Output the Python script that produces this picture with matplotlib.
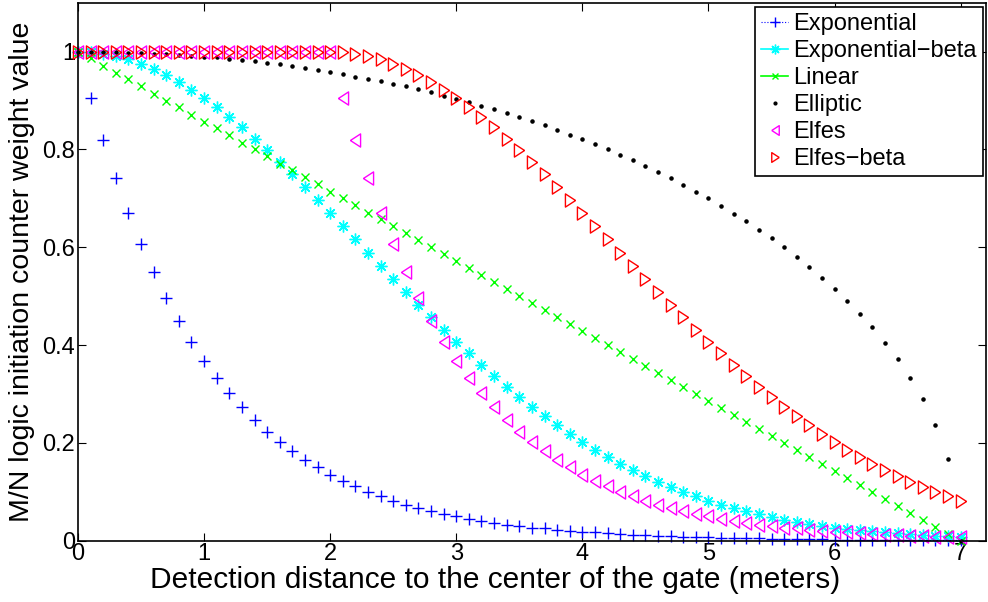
"""
Weight functions for the M/N logic initiation counter vs detection distance.
Writes out.png
"""
import numpy as np
import matplotlib
matplotlib.use("Agg")
import matplotlib.pyplot as plt
from matplotlib.lines import Line2D

plt.rcParams["font.family"] = ["Liberation Sans", "DejaVu Sans"]

# distance grid (meters), 0.1 m step
dist = np.linspace(0, 7, 71)

exponential = [1.000, 0.905, 0.819, 0.741, 0.670, 0.607, 0.549, 0.497, 0.449, 0.407,
               0.368, 0.333, 0.301, 0.273, 0.247, 0.223, 0.202, 0.183, 0.165, 0.150,
               0.135, 0.122, 0.111, 0.100, 0.091, 0.082, 0.074, 0.067, 0.061, 0.055,
               0.050, 0.045, 0.041, 0.037, 0.033, 0.030, 0.027, 0.025, 0.022, 0.020,
               0.018, 0.017, 0.015, 0.014, 0.012, 0.011, 0.010, 0.009, 0.008, 0.007,
               0.007, 0.006, 0.006, 0.005, 0.005, 0.004, 0.004, 0.003, 0.003, 0.003,
               0.002, 0.002, 0.002, 0.002, 0.002, 0.002, 0.001, 0.001, 0.001, 0.001,
               0.001]

exp_beta = [1.000, 0.999, 0.996, 0.991, 0.984, 0.975, 0.965, 0.952, 0.938, 0.922,
            0.905, 0.886, 0.866, 0.845, 0.822, 0.799, 0.774, 0.749, 0.723, 0.697,
            0.670, 0.643, 0.616, 0.589, 0.562, 0.535, 0.509, 0.482, 0.457, 0.431,
            0.407, 0.383, 0.359, 0.337, 0.315, 0.294, 0.274, 0.254, 0.236, 0.219,
            0.202, 0.186, 0.171, 0.157, 0.144, 0.132, 0.121, 0.110, 0.100, 0.091,
            0.082, 0.074, 0.067, 0.060, 0.054, 0.049, 0.043, 0.039, 0.035, 0.031,
            0.027, 0.024, 0.021, 0.019, 0.017, 0.015, 0.013, 0.011, 0.010, 0.009,
            0.007]

linear = [1.000, 0.986, 0.971, 0.957, 0.943, 0.929, 0.914, 0.900, 0.886, 0.871,
          0.857, 0.843, 0.829, 0.814, 0.800, 0.786, 0.771, 0.757, 0.743, 0.729,
          0.714, 0.700, 0.686, 0.671, 0.657, 0.643, 0.629, 0.614, 0.600, 0.586,
          0.571, 0.557, 0.543, 0.529, 0.514, 0.500, 0.486, 0.471, 0.457, 0.443,
          0.429, 0.414, 0.400, 0.386, 0.371, 0.357, 0.343, 0.329, 0.314, 0.300,
          0.286, 0.271, 0.257, 0.243, 0.229, 0.214, 0.200, 0.186, 0.171, 0.157,
          0.143, 0.129, 0.114, 0.100, 0.086, 0.071, 0.057, 0.043, 0.029, 0.014,
          0.000]

elliptic = [1.000, 1.000, 1.000, 0.999, 0.998, 0.997, 0.996, 0.995, 0.993, 0.992,
            0.990, 0.988, 0.985, 0.983, 0.980, 0.977, 0.974, 0.970, 0.966, 0.963,
            0.958, 0.954, 0.949, 0.944, 0.939, 0.934, 0.929, 0.923, 0.917, 0.910,
            0.904, 0.897, 0.889, 0.882, 0.874, 0.866, 0.858, 0.849, 0.840, 0.830,
            0.821, 0.811, 0.800, 0.789, 0.778, 0.766, 0.754, 0.741, 0.728, 0.714,
            0.700, 0.685, 0.669, 0.653, 0.636, 0.619, 0.600, 0.581, 0.560, 0.538,
            0.515, 0.491, 0.464, 0.436, 0.405, 0.371, 0.333, 0.290, 0.237, 0.168,
            0.000]

# flat at 1 up to 2 m, then decaying
elfes = [1.0] * 21 + [
    0.905, 0.819, 0.741, 0.670, 0.607, 0.549, 0.497, 0.449, 0.407, 0.368,
    0.333, 0.301, 0.273, 0.247, 0.223, 0.202, 0.183, 0.165, 0.150, 0.135,
    0.122, 0.111, 0.100, 0.091, 0.082, 0.074, 0.067, 0.061, 0.055, 0.050,
    0.045, 0.041, 0.037, 0.033, 0.030, 0.027, 0.025, 0.022, 0.020, 0.018,
    0.017, 0.015, 0.014, 0.012, 0.011, 0.010, 0.009, 0.008, 0.007, 0.007]

elfes_beta = [1.0] * 21 + [
    0.999, 0.996, 0.991, 0.984, 0.975, 0.965, 0.952, 0.938, 0.922, 0.905,
    0.886, 0.866, 0.845, 0.822, 0.799, 0.774, 0.749, 0.723, 0.697, 0.670,
    0.643, 0.616, 0.589, 0.562, 0.535, 0.509, 0.482, 0.457, 0.431, 0.407,
    0.383, 0.359, 0.337, 0.315, 0.294, 0.274, 0.254, 0.236, 0.219, 0.202,
    0.186, 0.171, 0.157, 0.144, 0.132, 0.121, 0.110, 0.100, 0.091, 0.082]

labels = ["Exponential", "Exponential\u2212beta", "Linear", "Elliptic", "Elfes", "Elfes\u2212beta"]

FS = 17
asterisk = (8, 2, 0)
# MATLAB-like narrow triangles
tri_left = [(-0.77, 0), (0.77, 1), (0.77, -1), (-0.77, 0)]
tri_right = [(0.77, 0), (-0.77, 1), (-0.77, -1), (0.77, 0)]

fig = plt.figure(figsize=(9.88, 6.02), dpi=100)
ax = fig.add_axes([0.0789, 0.1018, 0.919, 0.8937])

kw = dict(ls="none", clip_on=False)
ax.plot(dist, exponential, marker="+", ms=8, mew=1.0, color="#0000ff", **kw)
ax.plot(dist, exp_beta, marker=asterisk, ms=8.5, mew=1.0, color="#00ffff", **kw)
ax.plot(dist, linear, marker="x", ms=5.5, mew=1.0, color="#00ff00", **kw)
ax.plot(dist, elliptic, marker=".", ms=4.5, color="black", **kw)
ax.plot(dist, elfes, marker=tri_left, ms=9.5, mew=1.0, mfc="none", mec="#ff00ff", **kw)
ax.plot(dist, elfes_beta, marker=tri_right, ms=9.5, mew=1.0, mfc="none", mec="#ff0000", **kw)

ax.set_xlim(0, 7.2)
ax.set_ylim(0, 1.1)
ax.set_xticks(range(0, 8))
ax.set_yticks([0, 0.2, 0.4, 0.6, 0.8, 1])
ax.set_yticklabels(["0", "0.2", "0.4", "0.6", "0.8", "1"])
ax.tick_params(direction="in", top=True, right=True, length=6, width=0.8,
               labelsize=FS, pad=2)
for s in ax.spines.values():
    s.set_linewidth(1.2)

ax.set_xlabel("Detection distance to the center of the gate (meters)", fontsize=21.5)
ax.xaxis.set_label_coords(0.46, -0.047, transform=ax.transAxes)
ax.xaxis.label.set_va("top")
ax.set_ylabel("M/N logic initiation counter weight value", fontsize=20.5, labelpad=5)

handles = [
    Line2D([], [], ls=":", color="#0000ff", marker="+", ms=7, mew=1.0, lw=0.8),
    Line2D([], [], ls="-", color="#00ffff", marker=asterisk, ms=7, mew=1.0, lw=1.2),
    Line2D([], [], ls="-", color="#00ff00", marker="x", ms=5, mew=1.0, lw=1.2),
    Line2D([], [], ls="none", color="black", marker=".", ms=4),
    Line2D([], [], ls="none", marker=tri_left, ms=7, mew=1.0, mfc="none", mec="#ff00ff"),
    Line2D([], [], ls="none", marker=tri_right, ms=7, mew=1.0, mfc="none", mec="#ff0000"),
]
leg = ax.legend(handles, labels, loc="upper right", bbox_to_anchor=(0.9963, 0.9914),
                borderaxespad=0, fontsize=FS, fancybox=False, edgecolor="black",
                framealpha=1, labelspacing=0.21, handlelength=1.15, handletextpad=0.2,
                borderpad=0.25)
leg.get_frame().set_linewidth(1.2)

fig.savefig("out.png", dpi=100)
